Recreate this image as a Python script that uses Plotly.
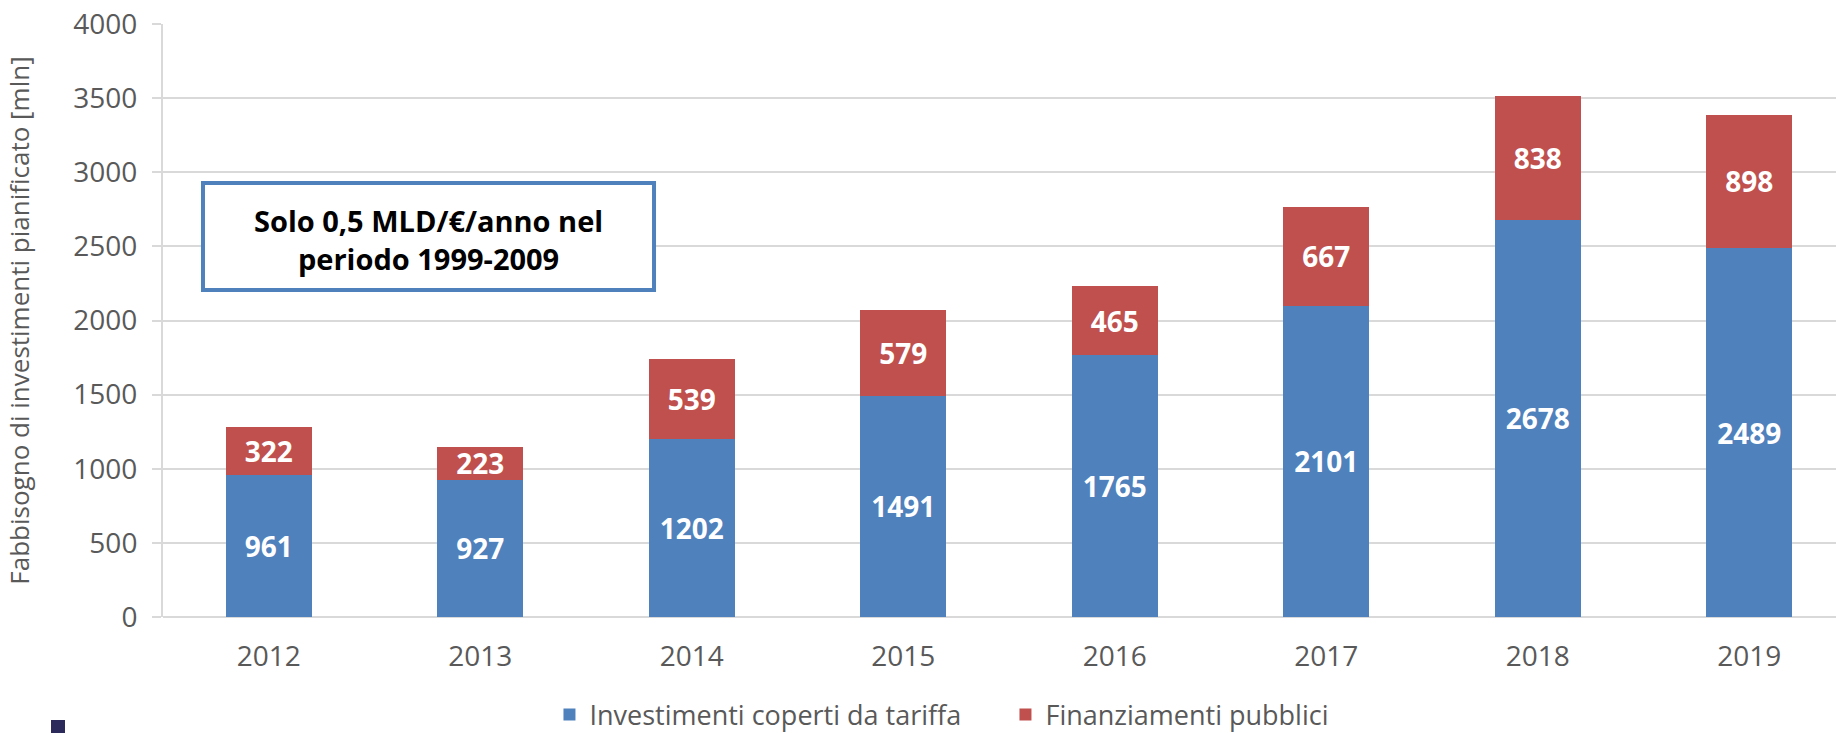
import plotly.graph_objects as go

years = ["2012", "2013", "2014", "2015", "2016", "2017", "2018", "2019"]
tariffa = [961, 927, 1202, 1491, 1765, 2101, 2678, 2489]
pubblici = [322, 223, 539, 579, 465, 667, 838, 898]
y_ticks = [0, 500, 1000, 1500, 2000, 2500, 3000, 3500, 4000]

FONT = "Open Sans"
GRAY = "#595959"
GRID = "#d9d9d9"

fig = go.Figure()
fig.add_trace(go.Bar(
    x=years, y=tariffa, name="Investimenti coperti da tariffa",
    marker=dict(color="#4f81bd", line=dict(width=0)),
    text=tariffa, textposition="inside", insidetextanchor="middle",
    textfont=dict(family=FONT, size=28, color="white", weight="bold"),
    textangle=0,
))
fig.add_trace(go.Bar(
    x=years, y=pubblici, name="Finanziamenti pubblici",
    marker=dict(color="#c0504d", line=dict(width=0)),
    text=pubblici, textposition="inside", insidetextanchor="middle",
    textfont=dict(family=FONT, size=28, color="white", weight="bold"),
    textangle=0,
))

fig.update_layout(
    width=1836, height=733,
    barmode="stack", bargap=0.595,
    margin=dict(l=163, r=0, t=24, b=116, autoexpand=False),
    plot_bgcolor="white", paper_bgcolor="white",
    font=dict(family=FONT, color=GRAY),
    uniformtext=dict(mode="show", minsize=28),
    showlegend=True,
    legend=dict(
        orientation="h", x=0.231, xanchor="left", y=-0.165, yanchor="middle",
        font=dict(family=FONT, size=27, color=GRAY),
        entrywidth=411, entrywidthmode="pixels",
        traceorder="normal",
    ),
    xaxis=dict(
        type="category", range=[-0.5, 7.41],
        showgrid=False, showline=False, ticks="",
        tickfont=dict(family=FONT, size=28, color=GRAY),
        ticklabelstandoff=20,
    ),
    yaxis=dict(
        range=[0, 4000], tickvals=y_ticks,
        showgrid=True, gridcolor=GRID, gridwidth=2,
        zeroline=True, zerolinecolor=GRID, zerolinewidth=2,
        showline=True, linecolor=GRID, linewidth=2,
        ticks="outside", ticklen=9, tickcolor=GRID, tickwidth=2,
        tickfont=dict(family=FONT, size=28, color=GRAY),
        ticklabelstandoff=9, ticklabeloverflow="allow",
        title=dict(text="Fabbisogno di investimenti pianificato [mln]",
                   font=dict(family=FONT, size=26, color=GRAY), standoff=36),
    ),
)

# annotation box
fig.add_shape(type="rect", xref="paper", yref="paper",
              x0=0.0239, x1=0.2935, y0=0.5514, y1=0.7319,
              line=dict(color="#4f81bd", width=4), fillcolor="white", layer="above")
fig.add_annotation(xref="paper", yref="paper", x=0.1587, y=0.636,
                   xanchor="center", yanchor="middle",
                   text="Solo 0,5 MLD/€/anno nel<br>periodo 1999-2009",
                   showarrow=False, align="center",
                   font=dict(family=FONT, size=29, color="black", weight="bold"))

# cropped logo fragment bottom-left
fig.add_shape(type="rect", xref="paper", yref="paper",
              x0=(51 - 163) / 1673, x1=(65 - 163) / 1673,
              y0=-(733 - 617) / 593, y1=-(720 - 617) / 593,
              line=dict(width=0), fillcolor="#2b2a5b", layer="above")

fig.write_html(
    "out.html",
    config={"displayModeBar": False},
    post_script="document.body.style.margin='0px'; document.body.style.overflow='hidden';",
)
